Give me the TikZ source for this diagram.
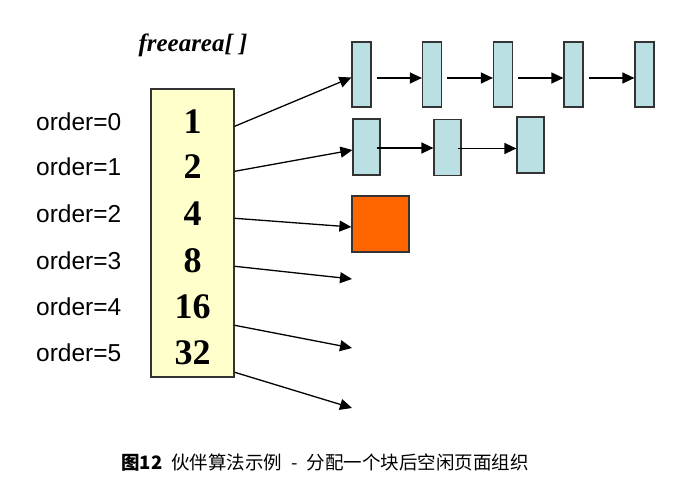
\documentclass[tikz,border=0pt]{standalone}
\usepackage{fontspec}
\setmainfont{Liberation Serif}
\setsansfont{Liberation Sans}
\newfontfamily\cjk{Noto Sans CJK SC}
\usetikzlibrary{arrows.meta,calc,positioning}
\definecolor{areafill}{HTML}{FFFFCC}
\definecolor{pagefill}{HTML}{BBE0E3}
\definecolor{usedfill}{HTML}{FF6600}
\definecolor{edgegray}{HTML}{333333}
\tikzset{
    area box/.style={
        draw=edgegray,
        line width=1.4pt,
        fill=areafill,
        minimum width=83pt,
        minimum height=288pt,
        inner sep=0pt
    },
    area num/.style={font=\fontsize{36}{36}\selectfont\bfseries},
    order label/.style={anchor=west, inner sep=0pt, font=\sffamily\fontsize{24.5}{24.5}\selectfont},
    page block/.style={
        draw=edgegray,
        line width=1.2pt,
        fill=pagefill,
        minimum width=19pt,
        minimum height=65pt,
        inner sep=0pt
    },
    page pair/.style={page block, minimum width=27pt, minimum height=56pt},
    used block/.style={page block, fill=usedfill, minimum width=57pt, minimum height=56pt},
    free arrow/.style={-{Triangle[length=12pt,width=11pt]}, line width=1.3pt}
}

\begin{document}
\begin{tikzpicture}[x=1pt,y=-1pt]
    \useasboundingbox (0,0) rectangle (686,486);

    \node[font=\fontsize{25}{25}\selectfont\bfseries\itshape] (title) at (193,45) {freearea[ ]};
    \node[area box] (area) at (192.5,233) {};

    \foreach \n/\v/\y in {0/1/122,1/2/167,2/4/214,3/8/261,4/16/307,5/32/353} {
        \node[area num] (num\n) at (192.5,\y) {\v};
        \node[order label] (ord\n) at (36,\y) {order=\n};
    }

    % single pages (order 0)
    \foreach \i/\x in {1/361.5,2/432,3/503,4/573.5,5/644.5}
        \node[page block] (pg\i) at (\x,74.5) {};
    \foreach \i/\j in {1/2,2/3,3/4,4/5}
        \draw[free arrow] ([xshift=5pt,yshift=-3.5pt]pg\i.east) -- ([yshift=-3.5pt]pg\j.west);

    % page pairs (order 1)
    \node[page pair] (pr1) at (366.5,147) {};
    \node[page pair] (pr2) at (447.5,147.5) {};
    \node[page pair] (pr3) at (530.5,145) {};
    \draw[free arrow] ([xshift=-4pt,yshift=-1pt]pr1.east) -- ([yshift=-1pt]pr1.east -| pr2.west);
    \draw[free arrow] ([xshift=-4pt,yshift=-1pt]pr2.east) -- ([yshift=-1pt]pr2.east -| pr3.west);

    % block of four pages (order 2)
    \node[used block] (quad) at (380.5,224) {};

    \coordinate (end3) at (352,279);
    \coordinate (end4) at (352,348);
    \coordinate (end5) at (352,408);

    \draw[free arrow] ($(area.north east)+(0,38)$) -- ([yshift=-3pt]pg1.west);
    \draw[free arrow] ($(area.north east)+(0,83)$) -- ([yshift=-3pt]pr1.west);
    \draw[free arrow] ($(area.north east)+(0,130)$) -- ([yshift=-3pt]quad.west);
    \draw[free arrow] ($(area.north east)+(0,178)$) -- (end3);
    \draw[free arrow] ($(area.north east)+(0,237)$) -- (end4);
    \draw[free arrow] ($(area.north east)+(0,284)$) -- (end5);

    \node[font=\cjk\fontsize{18.5}{18.5}\selectfont] (caption) at (325,463)
        {\textbf{图12}\hspace{9pt}伙伴算法示例\hspace{9pt}-\hspace{9pt}分配一个块后空闲页面组织};
\end{tikzpicture}
\end{document}
